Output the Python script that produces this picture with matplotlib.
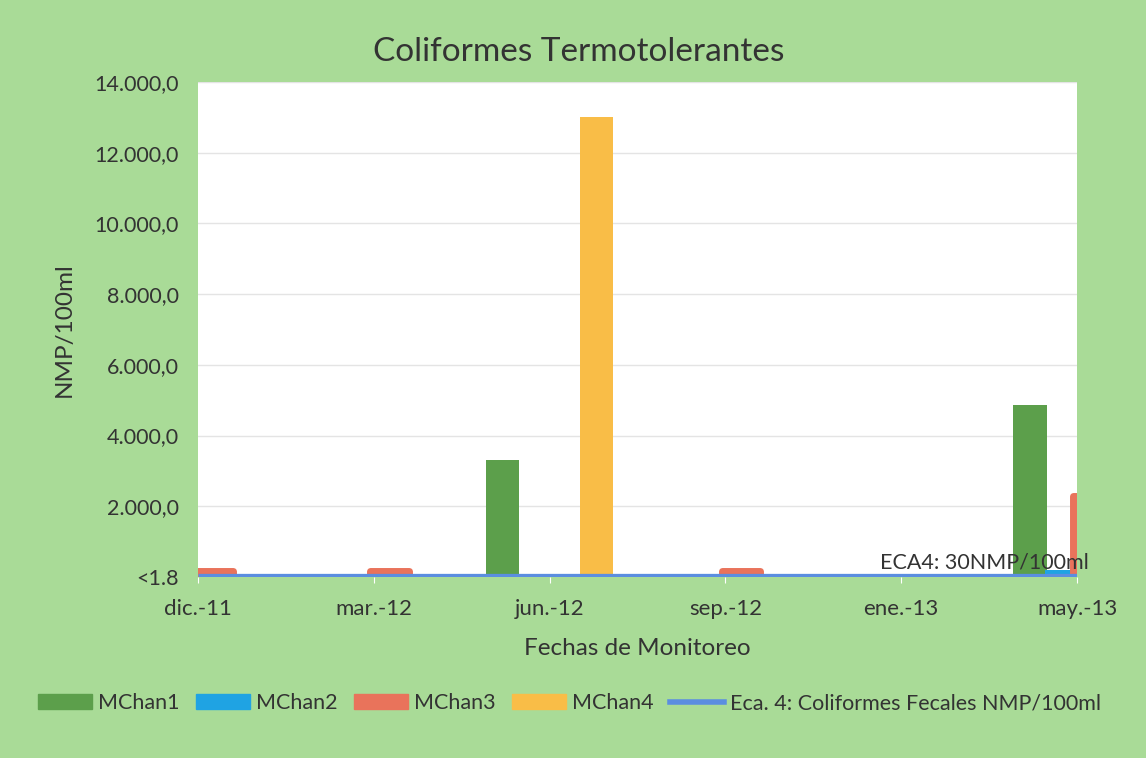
import matplotlib.pyplot as plt
import matplotlib.ticker as mticker
import numpy as np

# Data (NMP/100ml; <1.8 stored as 1.8)
fechas = ['dic.-11', 'mar.-12', 'jun.-12', 'sep.-12', 'ene.-13', 'may.-13']
mchan1 = [1.8, 1.8, 3300, 1.8, 1.8, 4860]
mchan2 = [1.8, 1.8, 1.8, 1.8, 1.8, 200]
mchan3 = [180, 180, 1.8, 180, 1.8, 2300]
mchan4 = [1.8, 1.8, 13000, 1.8, 1.8, 1.8]
eca4 = [30, 30, 30, 30, 30, 30]

bg = '#a9db97'
colors = ['#5c9f4b', '#1fa3e3', '#e9735b', '#f9bd47']
line_color = '#5b8ee0'
txt = '#333333'

plt.rcParams['font.family'] = ['Lato', 'DejaVu Sans']

fig = plt.figure(figsize=(11.46, 7.58), dpi=100)
fig.patch.set_facecolor(bg)
ax = fig.add_axes([0.1728, 0.2388, 0.767, 0.653])
ax.set_facecolor('white')

x = np.arange(len(fechas))
step = 0.178
series = [mchan1, mchan2, mchan3, mchan4]
names = ['MChan1', 'MChan2', 'MChan3', 'MChan4']
for i, (vals, c, n) in enumerate(zip(series, colors, names)):
    off = (i - 1.5) * step
    if n == 'MChan3':
        v = np.array(vals)
        m = v > 10
        ax.bar(x[m] + off, v[m], width=0.22, color=c, edgecolor=c, linewidth=5,
               joinstyle='round', zorder=2)
    else:
        ax.bar(x + off, vals, width=0.19, color=c, zorder=2)

ax.plot(x, eca4, color=line_color, lw=3.8, zorder=3, solid_capstyle='butt')
ax.text(3.88, 420, 'ECA4: 30NMP/100ml', fontsize=15.5, color=txt, va='center', zorder=4)

ax.set_xlim(0, 5)
ax.set_ylim(0, 14000)
ax.set_xticks(x)
ax.set_xticklabels(fechas)
ax.set_yticks(np.arange(0, 14001, 2000))

def fmt(v, pos):
    if v == 0:
        return '<1.8'
    return '{:,.1f}'.format(v).replace(',', 'X').replace('.', ',').replace('X', '.')

ax.yaxis.set_major_formatter(mticker.FuncFormatter(fmt))
ax.tick_params(axis='y', length=0, labelsize=15.5, colors=txt, pad=14)
ax.tick_params(axis='x', length=4, color='white', labelsize=16, labelcolor=txt, pad=12)
ax.grid(axis='y', color='#e4e4e4', lw=1, zorder=0)
ax.set_axisbelow(True)
for s in ax.spines.values():
    s.set_visible(False)

fig.text(0.505, 0.931, 'Coliformes Termotolerantes', fontsize=24, color=txt,
         ha='center', va='center')
ax.set_xlabel('Fechas de Monitoreo', fontsize=17.5, color=txt)
ax.xaxis.set_label_coords(0.5, -0.124)
ax.set_ylabel('NMP/100ml', fontsize=17.5, color=txt)
ax.yaxis.set_label_coords(-0.14, 0.5)

handles = [plt.Rectangle((0, 0), 1, 1, color=c) for c in colors]
handles.append(plt.Line2D([0], [0], color=line_color, lw=4))
fig.legend(handles, names + ['Eca. 4: Coliformes Fecales NMP/100ml'],
           loc='center', bbox_to_anchor=(0.497, 0.072), ncol=5, frameon=False,
           fontsize=15.5, handlelength=2.5, handleheight=0.7, columnspacing=0.75,
           handletextpad=0.3, labelcolor=txt)

fig.savefig('out.png', dpi=100, facecolor=bg)
